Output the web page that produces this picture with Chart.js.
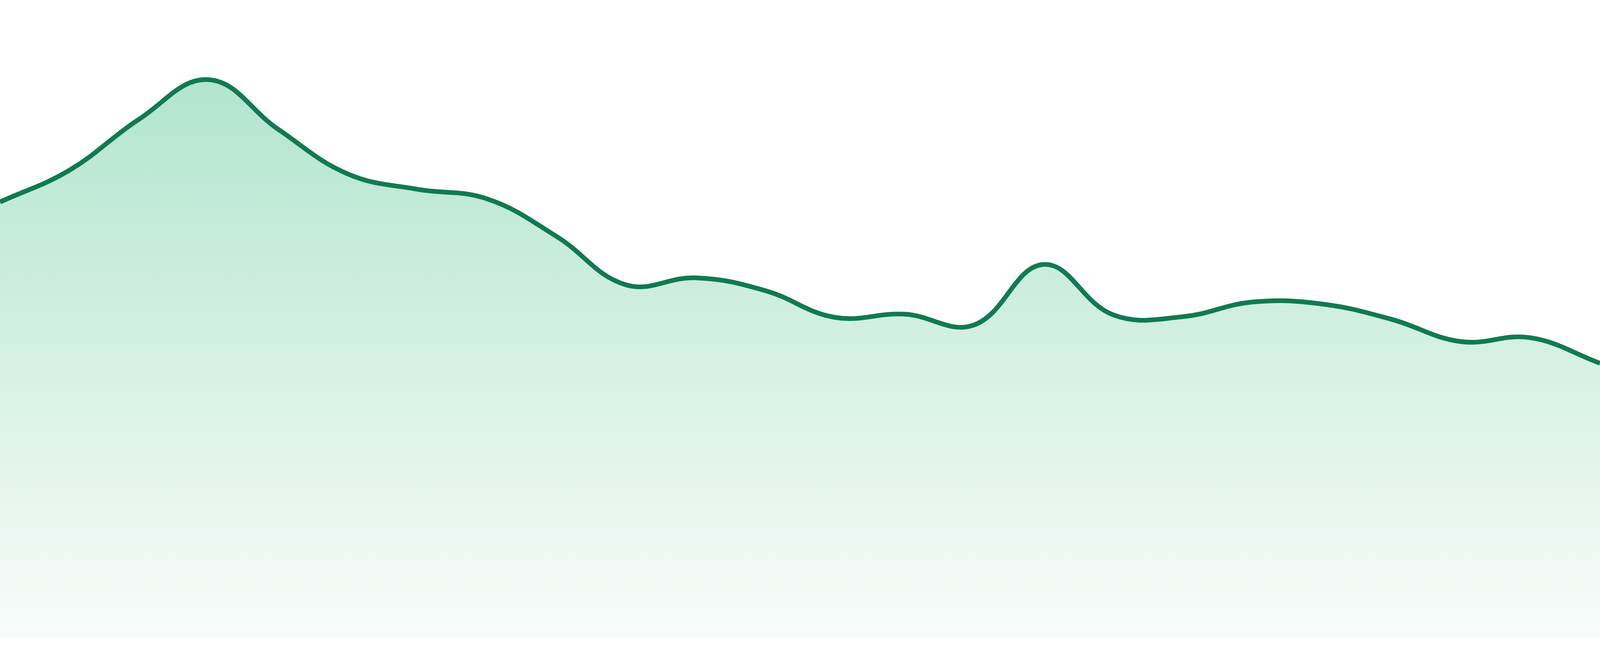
<!DOCTYPE html>
<html>
<head>
<meta charset="utf-8">
<script src="https://cdn.jsdelivr.net/npm/chart.js@4/dist/chart.umd.min.js"></script>
<style>
  html, body { margin: 0; padding: 0; background: #fff; overflow: hidden; }
  .wrap { width: 100vw; height: 100vh; position: relative; }
  canvas { display: block; }
</style>
</head>
<body>
<div class="wrap"><canvas class="js-chart"></canvas></div>
<script>
const ctx = document.querySelector('.js-chart').getContext('2d');

// 24 points, no axes shown
const labels = ['01', '02', '03', '04', '05', '06', '07', '08', '09', '10', '11', '12',
                '13', '14', '15', '16', '17', '18', '19', '20', '21', '22', '23', '24'];
const values = [68.3, 73.3, 81.3, 87.5, 79.7, 72.7, 70.3, 68.8, 62.9, 55.3, 56.4, 54.4,
                50.2, 50.7, 49.0, 58.5, 50.6, 50.3, 52.6, 52.3, 49.9, 46.4, 47.0, 43.0];
const Y_MIN = 0;
const Y_MAX = 100;

// measurements were taken on the 4800px wide picture, scale them to css px
const S = window.innerWidth / 4800;
const SV = window.innerHeight / 1680;

function areaGradient(context) {
    const area = context.chart.chartArea;
    if (!area) return 'rgb(178,229,207)';
    const g = context.chart.ctx.createLinearGradient(0, area.top, 0, area.bottom);
    g.addColorStop(0, 'rgb(168,225,200)');
    g.addColorStop(1, 'rgb(248,252,250)');
    return g;
}

new Chart(ctx, {
    type: 'line',
    data: {
        labels: labels,
        datasets: [
            {
            data: values,
            borderColor: '#107a51',
            borderWidth: 14 * S,
            backgroundColor: areaGradient,
            fill: 'start',
            tension: 0.4,
            pointRadius: 0,
            pointHoverRadius: 0,
            }
        ]
    },
    options: {
        responsive: true,
        maintainAspectRatio: false,
        animation: false,
        layout: { padding: { top: 0, left: 0, right: 0, bottom: 48 * SV } },
        plugins: {
            legend: { display: false },
            tooltip: { enabled: false }
        },
        scales: {
            x: { display: false },
            y: { display: false, min: Y_MIN, max: Y_MAX }
        }
    }
});
</script>
</body>
</html>
